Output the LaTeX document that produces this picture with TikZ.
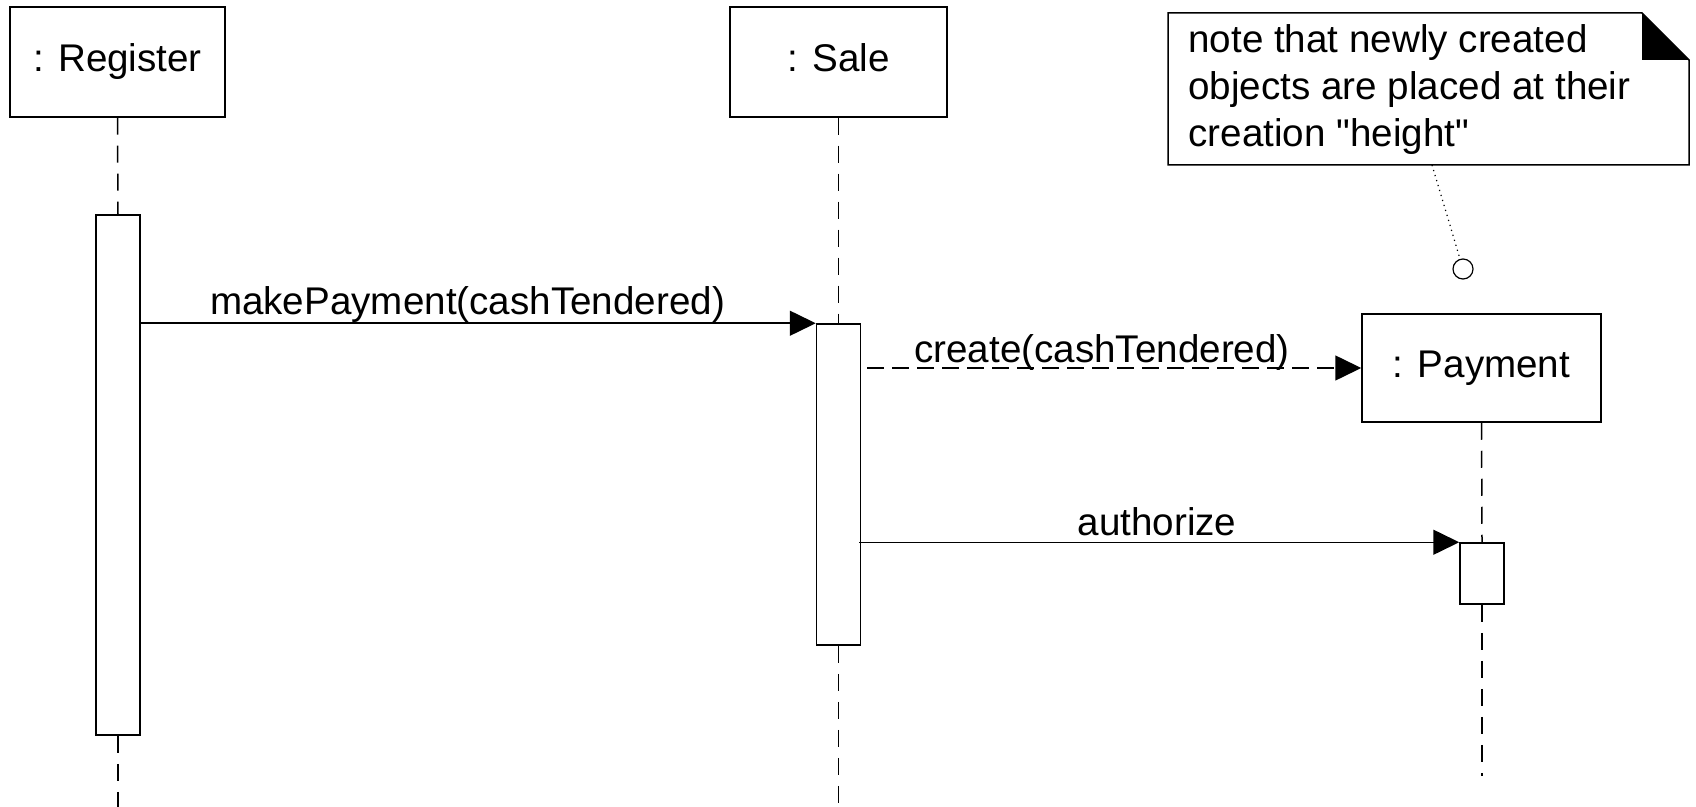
\documentclass[tikz,border=0pt]{standalone}
\usepackage{fontspec}
% a family without the TeX ligature mapping, so that " stays a straight quote
\newfontfamily\diagfont{Liberation Sans}
\usetikzlibrary{arrows.meta}
\begin{document}
\begin{tikzpicture}[x=0.5pt,y=-0.5pt,
  every node/.style={font=\diagfont\fontsize{19.3pt}{23.5pt}\selectfont},
  objbox/.style={draw, line width=0.75pt, rectangle, inner sep=0,
    text height=14pt, text depth=4.5pt},
  actbox/.style={draw, fill=white, line width=0.75pt, rectangle, inner sep=0, minimum width=22pt},
  lifeline/.style={line width=0.75pt, dash pattern=on 8.5pt off 5.5pt},
  msg/.style={line width=0.75pt, -{Triangle[length=13pt,width=12.5pt]}},
  createmsg/.style={msg, dash pattern=on 8.5pt off 4pt},
  lbl/.style={anchor=base, inner sep=0},
  notebox/.style={line width=0.75pt}]
\useasboundingbox (0,0) rectangle (1696,807);

% object heads
\node[objbox, minimum width=107.5pt, minimum height=55pt] (reg) at (117.5,62) {: Register};
\node[objbox, minimum width=108.5pt, minimum height=55pt] (sale) at (838.5,62) {: Sale};
\node[objbox, minimum width=119.5pt, minimum height=54pt] (pay) at (1481.5,368) {: Payment};

% activation bars
\node[actbox, minimum height=260pt] (ract) at (118,475) {};
\node[actbox, minimum height=160.5pt] (sact) at (838.5,484.5) {};
\node[actbox, minimum height=30.5pt] (pact) at (1482,573.5) {};

% lifeline ends
\coordinate (rend) at (118,807);
\coordinate (send) at (838.5,807);
\coordinate (pend) at (1482,776);

% lifelines
\draw[lifeline] (reg.south) -- (ract.north);
\draw[lifeline] (ract.south) -- (rend);
\draw[lifeline] (sale.south) -- (sact.north);
\draw[lifeline] (sact.south) -- (send);
\draw[lifeline] (pay.south) -- (pact.north);
\draw[lifeline] (pact.south) -- (pend);

% messages
\draw[msg] (ract.east |- sact.north west) -- (sact.north west);
\node[lbl] (m1) at (467.5,315) {makePayment(cashTendered)};

\draw[createmsg] ([xshift=3pt]sact.east |- pay.west) -- (pay.west);
\node[lbl] (m2) at (1102,363) {create(cashTendered)};

\draw[msg] ([xshift=-1pt]sact.east |- pact.north west) -- (pact.north west);
\node[lbl] (m3) at (1157,535) {authorize};

% note with folded corner
\draw[notebox] (1168,13) -- (1642,13) -- (1689,60) -- (1689,165) -- (1168,165) -- cycle;
\fill (1642,13) -- (1642,60) -- (1689,60) -- cycle;
\node[anchor=base west, inner sep=0] (notetext) at (1188,53)
  {\vtop{\hbox{note that newly created}\hbox{objects are placed at their}\hbox{creation "height"}}};

% note anchor
\coordinate (notefoot) at (1432,165);
\node[draw, circle, line width=0.6pt, inner sep=0, minimum size=10pt] (mark) at (1463,269) {};
\draw[line width=0.6pt, dotted] (notefoot) -- (mark);
\end{tikzpicture}
\end{document}
